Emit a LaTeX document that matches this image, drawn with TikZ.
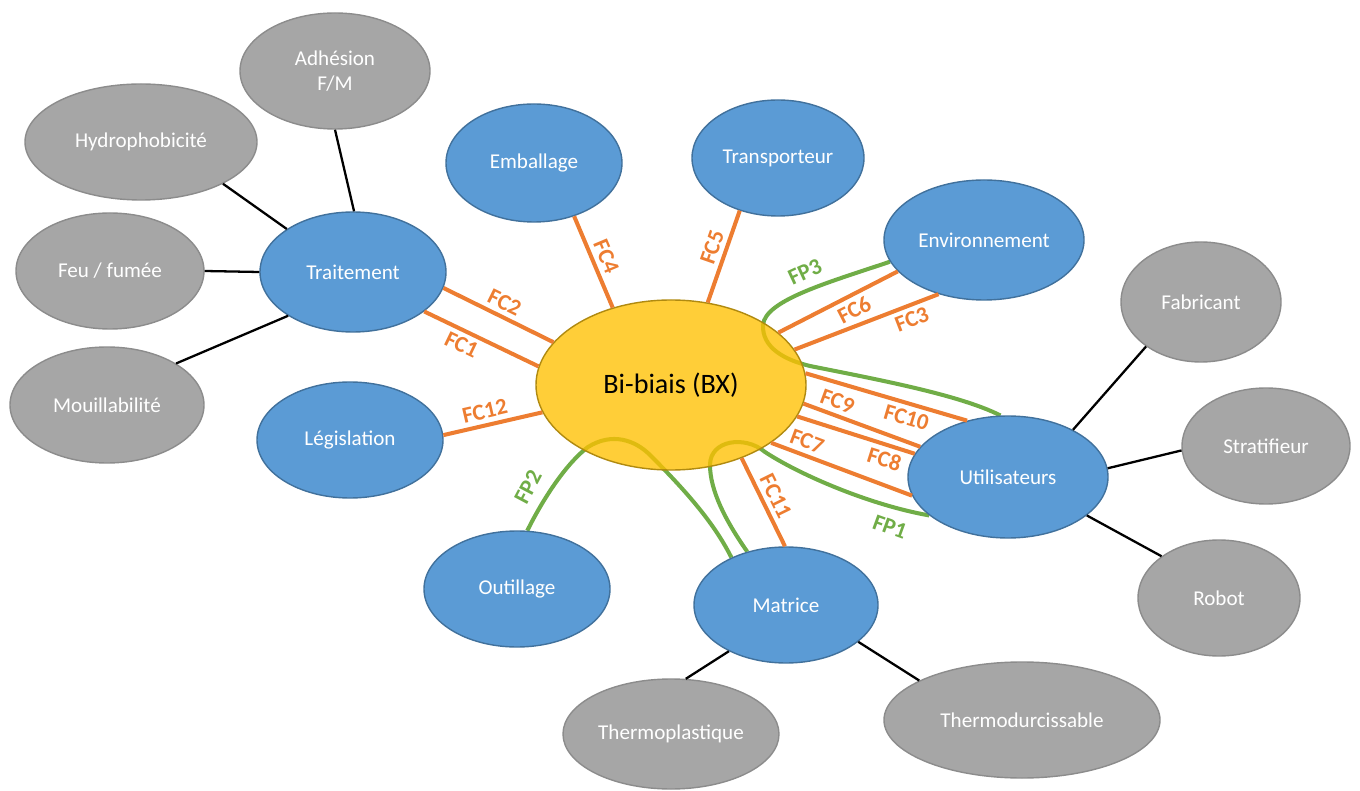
\documentclass[tikz,border=0pt]{standalone}
\usepackage{fontspec}
\setmainfont{Carlito}
\usepackage{xcolor}
\usepackage{tikz}
\usetikzlibrary{shapes.geometric, positioning, backgrounds}
\definecolor{bluefill}{HTML}{5B9BD5}
\definecolor{blueline}{HTML}{41719C}
\definecolor{greyfill}{HTML}{A6A6A6}
\definecolor{greyline}{HTML}{8C8C8C}
\definecolor{bxfill}{HTML}{FFC000}
\definecolor{bxline}{HTML}{B08A10}
\definecolor{fcorange}{HTML}{ED7D31}
\definecolor{fpgreen}{HTML}{70AD47}
\tikzset{
  % Bubble styles
  bluebubble/.style={ellipse, inner sep=0pt, draw=blueline, fill=bluefill, line width=0.8pt, text=white, align=center, font=\fontsize{12}{14}\selectfont},
  greybubble/.style={ellipse, inner sep=0pt, draw=greyline, fill=greyfill, line width=0.8pt, text=white, align=center, font=\fontsize{12}{14}\selectfont},
  product/.style={ellipse, inner sep=0pt, draw=bxline, fill=bxfill, fill opacity=0.78, text opacity=1, line width=0.8pt, text=black, font=\fontsize{16}{18}\selectfont},
  % Connector styles
  link/.style={draw=black, line width=1.3pt},
  fcline/.style={draw=fcorange, line width=2.3pt},
  fpline/.style={draw=fpgreen, line width=2.3pt},
  fclabel/.style={text=fcorange, inner sep=2.5pt, font=\bfseries\fontsize{13}{13}\selectfont},
  fplabel/.style={text=fpgreen, inner sep=1pt, font=\bfseries\fontsize{13}{13}\selectfont},
}
\begin{document}
\begin{tikzpicture}[x=0.2mm, y=-0.2mm]
    \useasboundingbox (0,0) rectangle (1360,791);

    % Product
    \node[product, minimum width=54mm, minimum height=34mm] (bx) at (671,385) {Bi-biais (BX)};

    % Environment elements
    \node[bluebubble, minimum width=37.2mm, minimum height=24mm] (trait) at (353,272) {Traitement};
    \node[bluebubble, minimum width=37.2mm, minimum height=23.2mm] (legis) at (350,440) {Législation};
    \node[bluebubble, minimum width=35.2mm, minimum height=23.6mm] (emb) at (534,163) {Emballage};
    \node[bluebubble, minimum width=34.4mm, minimum height=23.2mm] (transp) at (778,158) {Transporteur};
    \node[bluebubble, minimum width=40mm, minimum height=24mm] (env) at (984,240) {Environnement};
    \node[bluebubble, minimum width=40mm, minimum height=24.4mm] (util) at (1008,477) {Utilisateurs};
    \node[bluebubble, minimum width=36.8mm, minimum height=23.2mm] (matr) at (786,605) {Matrice};
    \node[bluebubble, minimum width=37.2mm, minimum height=23.2mm] (outil) at (517,589) {Outillage};

    % Traitement details
    \node[greybubble, minimum width=38mm, minimum height=23.2mm] (adh) at (335,71) {Adhésion\\F/M};
    \node[greybubble, minimum width=46.4mm, minimum height=23.2mm] (hydro) at (141,142) {Hydrophobicité};
    \node[greybubble, minimum width=37.6mm, minimum height=23.2mm] (feu) at (110,271) {Feu / fumée};
    \node[greybubble, minimum width=38.8mm, minimum height=23.2mm] (mouil) at (107,405) {Mouillabilité};

    % Utilisateurs details
    \node[greybubble, minimum width=32mm, minimum height=24mm] (fabr) at (1201,302) {Fabricant};
    \node[greybubble, minimum width=33.6mm, minimum height=23.2mm] (strat) at (1266,446) {Stratifieur};
    \node[greybubble, minimum width=32.4mm, minimum height=23.2mm] (robot) at (1219,598) {Robot};

    % Matrice details
    \node[greybubble, minimum width=43.2mm, minimum height=22mm] (thpl) at (671,734) {Thermoplastique};
    \node[greybubble, minimum width=55.2mm, minimum height=23.2mm] (thdu) at (1022,720) {Thermodurcissable};

% === Links ===
    \draw[link] (adh.270) -- (trait.89);
    \draw[link] (hydro.333) -- (trait.147);
    \draw[link] (feu.0) -- (trait.180);
    \draw[link] (mouil.31) -- (trait.214);
    \draw[link] (fabr.219) -- (util.36);
    \draw[link] (strat.183) -- (util.5);
    \draw[link] (robot.144) -- (util.334);
    \draw[link] (matr.219) -- (thpl.75);
    \draw[link] (matr.333) -- (thdu.159);

% === Constraint functions ===
    \draw[fcline] (bx.160) -- node[fclabel, sloped, above] (fc2) {FC2} (trait.350);
    \draw[fcline] (bx.172.6) -- node[fclabel, sloped, below, pos=0.62] (fc1) {FC1} (trait.331);
    \draw[fcline] (bx.192) -- node[fclabel, sloped, above, pos=0.55] (fc12) {FC12} (legis.3);
    \draw[fcline] (bx.127) -- node[fclabel, sloped, above] (fc4) {FC4} (emb.307);
    \draw[fcline] (bx.66.6) -- node[fclabel, sloped, above, pos=0.55] (fc5) {FC5} (transp.234);
    \draw[fcline] (bx.26.8) -- node[fclabel, sloped, below, pos=0.58] (fc6) {FC6} (env.200);
    \draw[fcline] (bx.16.4) -- node[fclabel, sloped, below, pos=0.78] (fc3) {FC3} (env.230);
    \draw[fcline] (bx.5) -- node[fclabel, sloped, below, pos=0.65] (fc10) {FC10} (util.126);
    \draw[fcline] (bx.352) -- node[fclabel, sloped, above, pos=0.25] (fc9) {FC9} (util.161);
    \draw[fcline] (bx.346) -- node[fclabel, sloped, below, pos=0.78] (fc8) {FC8} (util.166);
    \draw[fcline] (bx.330) -- node[fclabel, sloped, above, pos=0.22] (fc7) {FC7} (util.191.5);
    \draw[fcline] (bx.314) -- node[fclabel, sloped, above, pos=0.5] (fc11) {FC11} (matr.91);

% === Principal functions ===
    \begin{scope}[on background layer]
    \draw[fpline] (env.193) .. controls (830,282) and (765,300) .. (763,325)
      .. controls (762,348) and (785,360) .. (810,366)
      .. controls (880,380) and (960,395) .. (util.97);
    \draw[fpline] (matr.126) .. controls (725,520) and (710,490) .. (710,465)
      .. controls (710,440) and (745,435) .. (765,452)
      .. controls (800,475) and (870,505) .. (util.206);
    \draw[fpline] (outil.80) .. controls (545,495) and (568,462) .. (588,447)
      .. controls (612,432) and (635,440) .. (650,455)
      .. controls (690,495) and (715,525) .. (matr.139);
    \end{scope}
    \node[fplabel, rotate=25] (fp3) at (805,272) {FP3};
    \node[fplabel, rotate=62] (fp2) at (528,487) {FP2};
    \node[fplabel, rotate=-20] (fp1) at (890,527) {FP1};
\end{tikzpicture}
\end{document}
